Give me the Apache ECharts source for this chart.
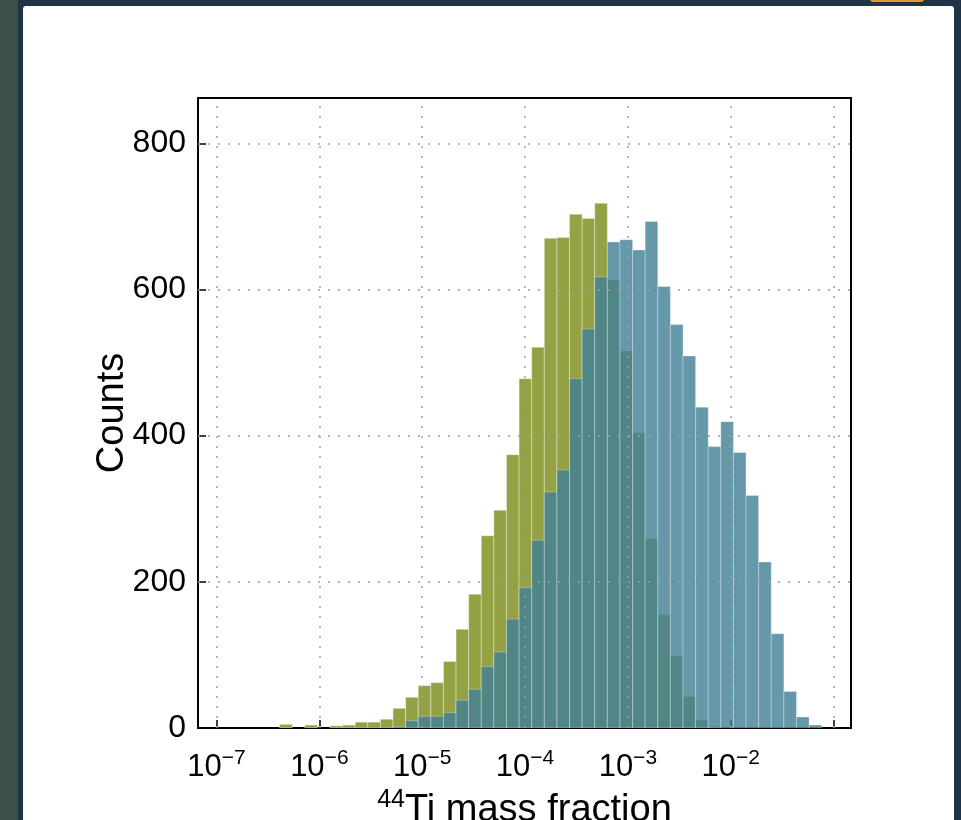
<!DOCTYPE html>
<html><head><meta charset="utf-8">
<script src="https://cdn.jsdelivr.net/npm/echarts@6/dist/echarts.min.js"></script>
<style>
html,body{margin:0;padding:0;width:961px;height:820px;overflow:hidden;background:#1f3547;}
#strip{position:absolute;left:0;top:0;width:18px;height:820px;background:#3b5046;}
#orange{position:absolute;left:870px;top:-4px;width:54px;height:6px;background:#e39a22;border-radius:3px;}
#panel{position:absolute;left:23px;top:6px;width:931px;height:830px;background:#fff;border-radius:3px;}
#chart{position:absolute;left:0;top:0;width:961px;height:820px;}
</style></head><body>
<div id="strip"></div><div id="orange"></div><div id="panel"></div><div id="chart"></div>
<script>
// histogram bins: log10 of mass fraction
const binStartLog = -7;
const binWidthLog = 0.1226;
const greenCounts = [0,0,0,0,0,5,0,4,0,3,4,8,8,12,27,42,58,62,91,135,183,263,298,374,478,521,670,671,703,697,718,613,516,404,259,155,99,43,11,2,0,0,0,0,0,0,0,0];
const blueCounts  = [0,0,0,0,0,0,0,0,0,0,0,0,0,0,2,10,16,16,21,38,53,84,104,149,192,257,323,353,478,546,617,665,668,654,693,604,552,509,439,385,419,377,318,227,129,50,15,4];
const xDecades = [-7,-6,-5,-4,-3,-2,-1];
const xLabelDecades = [-7,-6,-5,-4,-3,-2];
const yTicks = [0,200,400,600,800];

function toBins(counts){
  return counts.map((c,i)=>[binStartLog+i*binWidthLog, binStartLog+(i+1)*binWidthLog, c]);
}
function makeRender(fill, opacity){
  return function(params, api){
    const c = api.value(2);
    if(!c) return;
    const tl = api.coord([api.value(0), c]);
    const br = api.coord([api.value(1), 0]);
    return {type:'rect', shape:{x:tl[0], y:tl[1], width:br[0]-tl[0], height:br[1]-tl[1]},
      style:{fill:fill, opacity:opacity, stroke:'rgba(255,255,255,0.35)', lineWidth:1}};
  };
}
const FONT = 'Liberation Sans, Arial, Helvetica, sans-serif';
const chart = echarts.init(document.getElementById('chart'), null, {renderer:'canvas'});
chart.setOption({
  animation:false,
  backgroundColor:'transparent',
  grid:{left:198, right:110, top:98, bottom:92, containLabel:false, outerBoundsMode:'none',
        show:true, borderColor:'#000', borderWidth:2, backgroundColor:'transparent'},
  xAxis:{
    type:'value', min:-7.18, max:-0.83,
    axisLine:{show:false},
    splitLine:{show:false},
    axisTick:{show:true, inside:true, length:8, lineStyle:{color:'#000', width:1.5}, customValues:xDecades},
    axisLabel:{customValues:xLabelDecades, margin:20, color:'#000', fontFamily:FONT,
      formatter:v=>'{b|10}{s|\u2212'+(-v)+'}',
      rich:{b:{fontSize:31, fontFamily:FONT, color:'#000', verticalAlign:'bottom', lineHeight:35},
            s:{fontSize:21, fontFamily:FONT, color:'#000', verticalAlign:'top', lineHeight:21}}},
    name:'{s|44}{b|Ti mass fraction}', nameLocation:'middle', nameGap:50,
    nameTextStyle:{rich:{b:{fontSize:38, fontFamily:FONT, color:'#000', verticalAlign:'bottom', lineHeight:42},
                         s:{fontSize:25, fontFamily:FONT, color:'#000', verticalAlign:'top', lineHeight:25}}}
  },
  yAxis:{
    type:'value', min:0, max:862, interval:200,
    axisLine:{show:false},
    splitLine:{show:false},
    axisTick:{show:true, inside:true, length:8, lineStyle:{color:'#000', width:1.5}},
    axisLabel:{margin:12, fontSize:32, color:'#000', fontFamily:FONT,
      formatter:v=> yTicks.indexOf(v)>=0 ? String(v) : ''},
    name:'Counts', nameLocation:'middle', nameGap:66, nameMoveOverlap:false,
    nameTextStyle:{fontSize:38, fontFamily:FONT, color:'#000'}
  },
  series:[
    {type:'custom', name:'green', renderItem:makeRender('#95a145',1), encode:{x:[0,1], y:2}, data:toBins(greenCounts), z:2, clip:true},
    {type:'custom', name:'blue', renderItem:makeRender('#3f8095',0.8), encode:{x:[0,1], y:2}, data:toBins(blueCounts), z:3, clip:true,
     markLine:{silent:true, symbol:['none','none'], label:{show:false}, z:5,
       lineStyle:{color:'#a0a0a0', type:[2,8], width:1.5},
       emphasis:{disabled:true},
       data:[...xDecades.map(v=>({xAxis:v})), ...yTicks.slice(1).map(v=>({yAxis:v}))]}}
  ]
});
</script>
</body></html>
